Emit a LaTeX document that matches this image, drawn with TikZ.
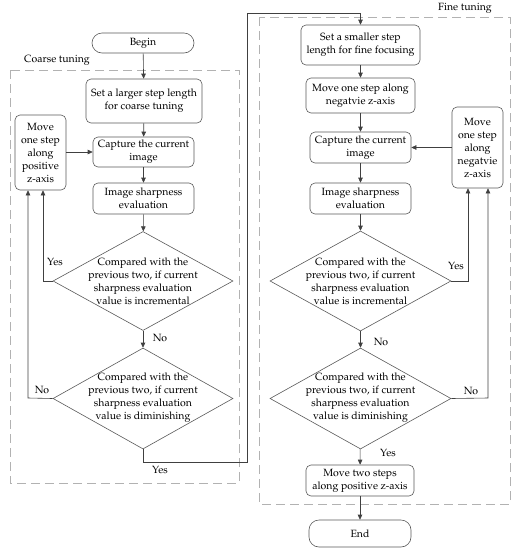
\documentclass[tikz,border=0pt]{standalone}
\usepackage[T1]{fontenc}
\usepackage{mathpazo}
\usetikzlibrary{shapes.geometric,arrows.meta}
\begin{document}
\begin{tikzpicture}[x=1pt,y=-1pt,
  every node/.style={font=\fontsize{10.5}{13}\selectfont, inner sep=0pt, align=center},
  box/.style={draw=black!65, rounded corners=5pt, line width=0.6pt},
  dia/.style={draw=black!65, diamond, line width=0.6pt},
  region/.style={draw=black!30, dash pattern=on 9pt off 5pt, line width=0.7pt},
  arr/.style={draw=black!75, line width=0.6pt, -{Triangle[length=5pt,width=4.5pt]}},
  lbl/.style={font=\fontsize{10.5}{13}\selectfont}]
\useasboundingbox (0,0) rectangle (518,550);
% regions
\draw[region] (10,70) rectangle (239,483);
\draw[region] (259,17) rectangle (510,504);
\node[lbl] (ct) at (57,60) {Coarse tuning};
\node[lbl] (ft) at (465,8) {Fine tuning};
% coarse column
\node[draw=black!65, line width=0.6pt, rounded corners=10pt, minimum width=102pt, minimum height=20pt] (begin) at (143,43) {Begin};
\node[box, minimum width=116pt, minimum height=44pt] (c1) at (144,101) {Set a larger step length\\for coarse tuning};
\node[box, minimum width=101pt, minimum height=30pt] (c2) at (143.5,152) {Capture the current\\image};
\node[box, minimum width=101pt, minimum height=31pt] (c3) at (143.5,198.5) {Image sharpness\\evaluation};
\node[dia, minimum width=180pt, minimum height=99pt, aspect=1.8] (d1) at (143,281) {};
\node (d1t) at (143,281) {Compared with the\\previous two, if current\\sharpness evaluation\\value is incremental};
\node[dia, minimum width=180pt, minimum height=101pt, aspect=1.8] (d2) at (143,398.5) {};
\node (d2t) at (143,398) {Compared with the\\previous two, if current\\sharpness evaluation\\value is diminishing};
\node[box, minimum width=51pt, minimum height=75pt] (cm) at (40.5,152.5) {Move\\one step\\along\\positive\\z-axis};
% fine column
\node[box, minimum width=119pt, minimum height=40pt] (f1) at (360.5,45) {Set a smaller step\\length for fine focusing};
\node[box, minimum width=109pt, minimum height=35pt] (f2) at (360.5,95.5) {Move one step along\\negatvie z-axis};
\node[box, minimum width=101pt, minimum height=31pt] (f3) at (360.5,147.5) {Capture the current\\image};
\node[box, minimum width=101pt, minimum height=31pt] (f4) at (360.5,198.5) {Image sharpness\\evaluation};
\node[dia, minimum width=181pt, minimum height=100pt, aspect=1.8] (d3) at (360.5,281) {};
\node (d3t) at (360.5,281) {Compared with the\\previous two, if current\\sharpness evaluation\\value is incremental};
\node[dia, minimum width=181pt, minimum height=101pt, aspect=1.8] (d4) at (360.5,398.5) {};
\node (d4t) at (360.5,398) {Compared with the\\previous two, if current\\sharpness evaluation\\value is diminishing};
\node[box, minimum width=108pt, minimum height=31pt] (f5) at (360,480.5) {Move two steps\\along positive z-axis};
\node[draw=black!65, line width=0.6pt, rounded corners=10pt, minimum width=102pt, minimum height=27pt] (end) at (360,533.5) {End};
\node[box, minimum width=51pt, minimum height=81pt] (fm) at (477.5,147.5) {Move\\one step\\along\\negatvie\\z-axis};
% coordinates
\coordinate (cy1) at (43,281);
\coordinate (cn1) at (28,398);
\coordinate (cj1) at (143,462);
\coordinate (cj2) at (247,462);
\coordinate (cj3) at (247,13);
\coordinate (fy1) at (468,281);
\coordinate (fn1) at (488,398);
% coarse arrows
\draw[arr] (begin) -- (c1);
\draw[arr] (c1) -- (c2);
\draw[arr] (c2) -- (c3);
\draw[arr] (c3) -- (d1);
\draw[arr] (d1) -- (d2);
\draw[arr] (cm.east |- c2) -- (c2.west);
\draw[arr] (d1.west) -- (cy1) -- (cy1 |- cm.south);
\draw[arr] (d2.west) -- (cn1) -- (cn1 |- cm.south);
\draw[arr] (d2.south) -- (cj1) -- (cj2) -- (cj3) -| (f1.north);
% fine arrows
\draw[arr] (f1) -- (f2);
\draw[arr] (f2) -- (f3);
\draw[arr] (f3) -- (f4);
\draw[arr] (f4) -- (d3);
\draw[arr] (d3) -- (d4);
\draw[arr] (d4) -- (f5);
\draw[arr] (f5) -- (end);
\draw[arr] (fm.west) -- (f3.east);
\draw[arr] (d3.east) -- (fy1) -- (fy1 |- fm.south);
\draw[arr] (d4.east) -- (fn1) -- (fn1 |- fm.south);
% labels
\node[lbl] (ly1) at (55,262) {Yes};
\node[lbl] (ln1) at (160,338) {No};
\node[lbl] (ln2) at (42,390) {No};
\node[lbl] (ly2) at (160,470) {Yes};
\node[lbl] (ly3) at (456,266) {Yes};
\node[lbl] (ln3) at (381,342) {No};
\node[lbl] (ln4) at (471,391) {No};
\node[lbl] (ly4) at (388,453) {Yes};
\end{tikzpicture}
\end{document}
